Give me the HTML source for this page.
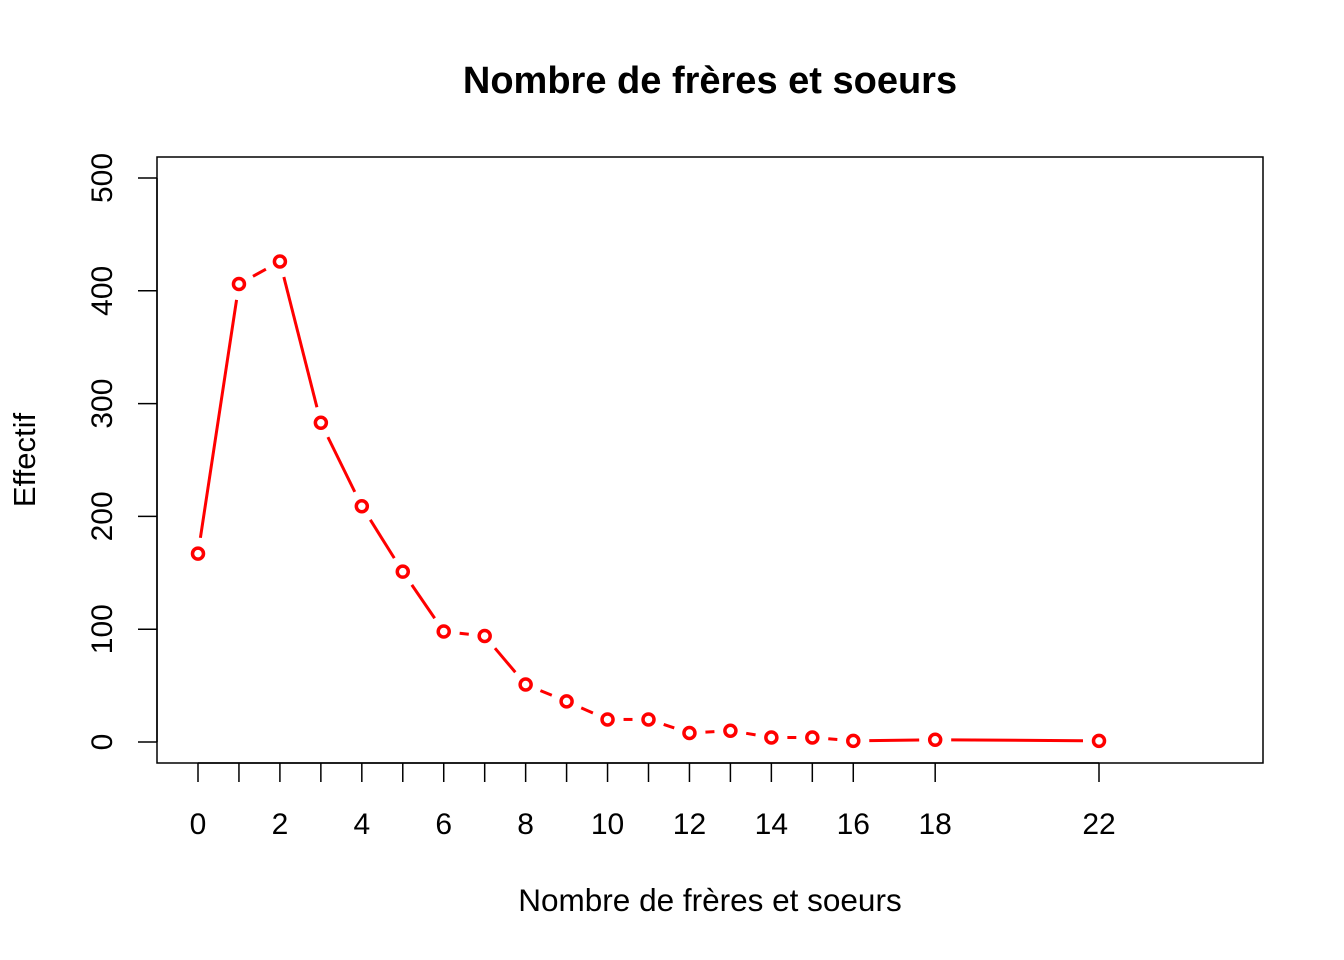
<!DOCTYPE html>
<html><head><meta charset="utf-8"><style>
body{margin:0;background:#fff;}
svg{display:block;font-family:"Liberation Sans",Arial,sans-serif;}
</style></head><body>
<svg id="chart" width="1344" height="960" viewBox="0 0 1344 960">
<text x="710" y="93" text-anchor="middle" font-size="38" font-weight="bold">Nombre de frères et soeurs</text>
<rect x="157" y="157" width="1106" height="606" fill="none" stroke="#000" stroke-width="1.5"/>
<text x="710" y="911" text-anchor="middle" font-size="31.5">Nombre de frères et soeurs</text>
<text transform="translate(35,460) rotate(-90)" text-anchor="middle" font-size="31">Effectif</text>
<g id="xaxis"></g>
<g id="yaxis"></g>
<g id="series"></g>
</svg>
<script>
const categories=[0,1,2,3,4,5,6,7,8,9,10,11,12,13,14,15,16,18,22];
const counts=[167,406,426,283,209,151,98,94,51,36,20,20,8,10,4,4,1,2,1];
const xLabels=[0,2,4,6,8,10,12,14,16,18,22];
const yTicks=[0,100,200,300,400,500];
const NS="http://www.w3.org/2000/svg";
function X(v){return 198+v*(1099-198)/22;}
function Y(v){return 742-v*(742-178)/500;}
function mk(tag,attrs,parent){const e=document.createElementNS(NS,tag);for(const k in attrs)e.setAttribute(k,attrs[k]);parent.appendChild(e);return e;}
const xa=document.getElementById('xaxis'),ya=document.getElementById('yaxis'),sg=document.getElementById('series');
mk('line',{x1:X(categories[0]),x2:X(categories[categories.length-1]),y1:763,y2:763,stroke:'#000','stroke-width':1.5},xa);
categories.forEach(c=>{const t=mk('line',{x1:X(c),x2:X(c),y1:763,y2:782,stroke:'#000','stroke-width':1.5},xa);

});
xLabels.forEach(c=>{const t=mk('text',{x:X(c),y:834,'text-anchor':'middle','font-size':30},xa);t.textContent=c;

});
mk('line',{x1:157,x2:157,y1:Y(0),y2:Y(500),stroke:'#000','stroke-width':1.5},ya);
yTicks.forEach(v=>{const t=mk('line',{x1:138,x2:157,y1:Y(v),y2:Y(v),stroke:'#000','stroke-width':1.5},ya);


const l=mk('text',{transform:`translate(112,${Y(v)}) rotate(-90)`,'text-anchor':'middle','font-size':30},ya);l.textContent=v;

});
const gap=16;
for(let i=0;i<categories.length-1;i++){
 const x1=X(categories[i]),y1=Y(counts[i]),x2=X(categories[i+1]),y2=Y(counts[i+1]);
 const d=Math.hypot(x2-x1,y2-y1);if(d<=2*gap+8)continue;
 const ux=(x2-x1)/d,uy=(y2-y1)/d;
 const s=mk('line',{x1:x1+ux*gap,y1:y1+uy*gap,x2:x2-ux*gap,y2:y2-uy*gap,stroke:'#f00','stroke-width':3},sg);
 
 
}
categories.forEach((c,i)=>{const p=mk('circle',{cx:X(c),cy:Y(counts[i]),r:5.5,fill:'none',stroke:'#f00','stroke-width':3.5},sg);

});
</script>
</body></html>
